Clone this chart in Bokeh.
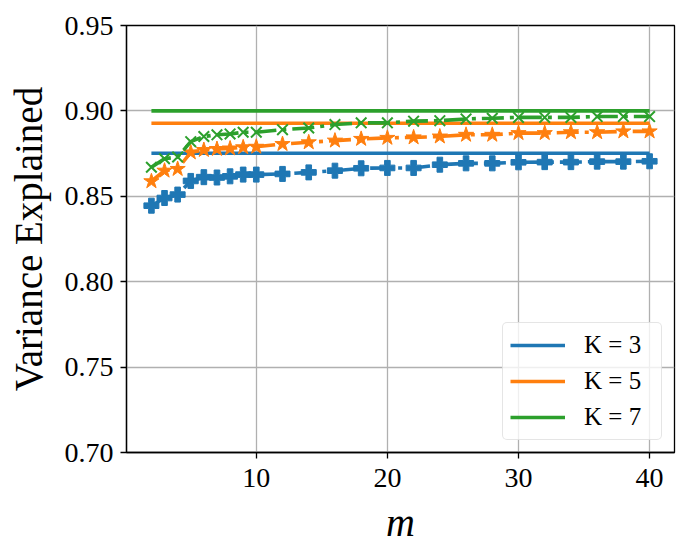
from bokeh.plotting import figure
from bokeh.models import Range1d, FixedTicker, Legend, LegendItem, PrintfTickFormatter
from bokeh.embed import file_html
from bokeh.resources import INLINE

# ---- data ----
m_values = [2, 3, 4, 5, 6, 7, 8, 9, 10, 12, 14, 16, 18, 20, 22, 24, 26, 28, 30, 32, 34, 36, 38, 40]
var_k3 = [0.8445, 0.849, 0.851, 0.859, 0.8612, 0.861, 0.8617, 0.8627, 0.8627,
          0.8631, 0.864, 0.865, 0.8664, 0.8666, 0.8666, 0.8685, 0.8693, 0.8693,
          0.8699, 0.870, 0.870, 0.8703, 0.8703, 0.8705]
var_k5 = [0.8588, 0.865, 0.866, 0.8757, 0.8771, 0.8777, 0.878, 0.8787, 0.879,
          0.8806, 0.8816, 0.8826, 0.8836, 0.8842, 0.8845, 0.885, 0.886, 0.886,
          0.887, 0.887, 0.8875, 0.8875, 0.888, 0.888]
var_k7 = [0.867, 0.872, 0.873, 0.882, 0.885, 0.886, 0.8865, 0.8875, 0.8875,
          0.889, 0.890, 0.892, 0.893, 0.893, 0.894, 0.8943, 0.8953, 0.8957,
          0.8962, 0.8962, 0.8962, 0.8967, 0.8967, 0.8967]
baseline = [0.8752, 0.8928, 0.900]
labels = ["K = 3", "K = 5", "K = 7"]
x_ticks = [10, 20, 30, 40]
y_ticks = [0.70, 0.75, 0.80, 0.85, 0.90, 0.95]

colors = ["#1f77b4", "#ff7f0e", "#2ca02c"]
markers = ["plus", "star", "x"]
series = [var_k3, var_k5, var_k7]

FONT = "Liberation Serif"

p = figure(frame_width=548, frame_height=427, output_backend="svg", toolbar_location=None,
           x_range=Range1d(0.1, 41.9), y_range=Range1d(0.70, 0.95),
           min_border_left=126, min_border_right=7, min_border_top=25, min_border_bottom=93,
           background_fill_color="white", border_fill_color="white")

p.outline_line_color = "black"
p.outline_line_width = 1.3
p.outline_line_alpha = 1.0

for ax in (p.xaxis[0], p.yaxis[0]):
    ax.axis_line_color = "black"
    ax.axis_line_width = 1.3
    ax.major_tick_line_color = "black"
    ax.major_tick_line_width = 1.3
    ax.major_tick_out = 6
    ax.major_tick_in = 0
    ax.minor_tick_line_color = None
    ax.major_label_text_font = FONT
    ax.major_label_text_font_size = "28px"
    ax.major_label_text_color = "black"
    ax.axis_label_text_font = FONT
    ax.axis_label_text_color = "black"

p.xaxis.ticker = FixedTicker(ticks=x_ticks)
p.yaxis.ticker = FixedTicker(ticks=y_ticks)
p.yaxis.formatter = PrintfTickFormatter(format="%.2f")
p.xaxis.major_label_standoff = 10
p.yaxis.major_label_standoff = 7

p.xaxis.axis_label = "m"
p.xaxis.axis_label_text_font_style = "italic"
p.xaxis.axis_label_text_font_size = "40px"
p.xaxis.axis_label_standoff = 10
p.yaxis.axis_label = "Variance Explained"
p.yaxis.axis_label_text_font_style = "normal"
p.yaxis.axis_label_text_font_size = "39px"
p.yaxis.axis_label_standoff = 12

p.xgrid.ticker = FixedTicker(ticks=x_ticks)
p.ygrid.ticker = FixedTicker(ticks=y_ticks)
p.grid.grid_line_color = "#b0b0b0"
p.grid.grid_line_width = 1.3

x_span = [min(m_values), max(m_values)]
items = []
for i in range(3):
    r = p.line(x_span, [baseline[i], baseline[i]], line_color=colors[i], line_width=3.6)
    items.append(LegendItem(label=labels[i], renderers=[r]))

for i in range(3):
    p.line(m_values, series[i], line_color=colors[i], line_width=3.6,
           line_dash="22 6 4 6", line_cap="butt")
    if markers[i] == "x":
        p.scatter(m_values, series[i], marker="x", size=15, line_color=colors[i],
                  line_width=2)
    elif markers[i] == "star":
        p.scatter(m_values, series[i], marker="star", size=16, fill_color=colors[i],
                  line_color=colors[i], line_width=1)
    else:
        p.scatter(m_values, series[i], marker="plus", size=15, fill_color=colors[i],
                  line_color=colors[i], line_width=1)

legend = Legend(items=items, location="bottom_right")
legend.label_text_font = FONT
legend.label_text_font_size = "25px"
legend.label_text_color = "black"
legend.glyph_width = 55
legend.glyph_height = 30
legend.label_height = 30
legend.label_width = 70
legend.label_standoff = 19
legend.spacing = 6
legend.padding = 7
legend.margin = 12
legend.border_line_color = "#cccccc"
legend.border_line_width = 1.3
legend.background_fill_color = "white"
legend.background_fill_alpha = 0.8
try:
    legend.border_radius = 5
except Exception:
    pass
p.add_layout(legend)

open("out.html", "w").write(file_html(p, INLINE))
